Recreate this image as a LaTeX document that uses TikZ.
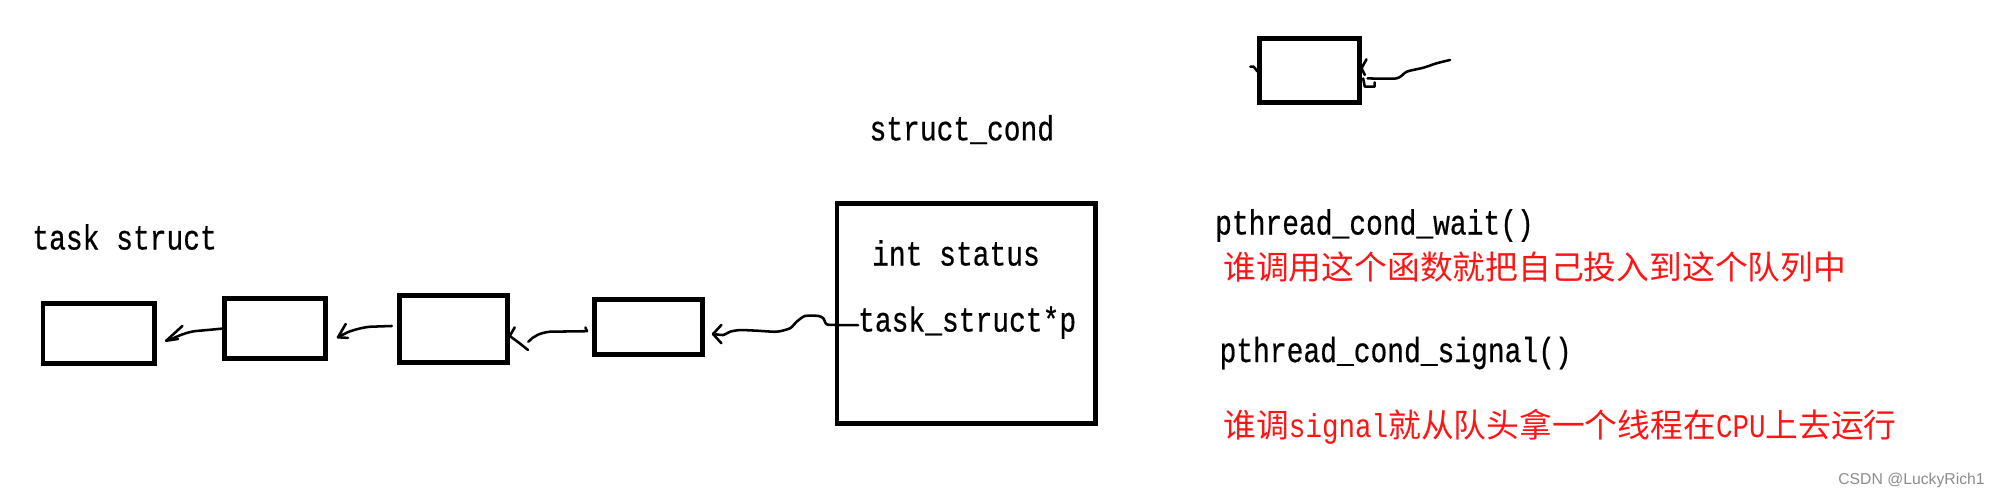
\documentclass[tikz,border=0pt]{standalone}
\usepackage{fontspec}
\usepackage{graphicx}
\newfontfamily\monofnt[FakeBold=0.6]{Liberation Mono}
\newfontfamily\monothin{Liberation Mono}
\newfontfamily\cjk{Noto Sans CJK SC}
\newfontfamily\wmfont{Liberation Sans}
\usetikzlibrary{calc}
\newcommand{\code}[1]{\scalebox{1}[1.25]{\monofnt\fontsize{22}{26}\selectfont #1}}
\newcommand{\rcode}[1]{\scalebox{1}[1.2]{\monothin\fontsize{21.7}{26}\selectfont #1}}
\definecolor{redtxt}{RGB}{255,20,20}
\definecolor{wmgray}{RGB}{140,140,140}
\begin{document}
\begin{tikzpicture}[x=1pt,y=-1pt,
  box/.style={draw,line width=3.8pt,inner sep=0pt,outer sep=0pt},
  hand/.style={line width=2pt,line cap=round,line join=round},
  lbl/.style={anchor=base west,inner sep=0pt,outer sep=0pt}]
\useasboundingbox (0,0) rectangle (1568,390);
\fill[white] (0,0) rectangle (1568,390);

% boxes
\node[box,minimum width=87.9pt,minimum height=47.3pt] (b1) at (77.8,262.5) {};
\node[box,minimum width=79.4pt,minimum height=47.2pt] (b2) at (216.6,258.5) {};
\node[box,minimum width=85.2pt,minimum height=52.2pt] (b3) at (357,259) {};
\node[box,minimum width=85.2pt,minimum height=43.2pt] (b4) at (510.5,257.5) {};
\node[box,minimum width=203.2pt,minimum height=173.2pt] (cond) at (760.5,246.5) {};
\node[box,minimum width=78.4pt,minimum height=50.7pt] (top) at (1030.8,55.35) {};

% texts
\node[lbl] (tslbl) at (25.5,196.4) {\code{task struct}};
\node[lbl] (condlbl) at (684.5,110.5) {\code{struct\_cond}};
\node[lbl] (st) at (686.5,209) {\code{int status}};
\node[lbl] (tp) at (675.5,261) {\code{task\_struct*p}};
\node[lbl] (wait) at (956.5,184.6) {\code{pthread\_cond\_wait()}};
\node[lbl,text=redtxt] (r1) at (963,220) {\cjk\fontsize{25.8}{30}\selectfont 谁调用这个函数就把自己投入到这个队列中};
\node[lbl] (sig) at (960,285) {\code{pthread\_cond\_signal()}};
\node[lbl,text=redtxt] (r2) at (963,344) {\cjk\fontsize{25.8}{30}\selectfont 谁调\rcode{signal}就从队头拿一个线程在\rcode{CPU}上去运行};
\node[lbl,text=wmgray] (wm) at (1447,381.5) {\wmfont\fontsize{12.4}{14}\selectfont CSDN @LuckyRich1};

% connector b2 -> b1
\coordinate (t1) at ($(b1.east)+(9.1,5.7)$);
\draw[hand] (b2.west) -- (157.4,260.3) .. controls (150,260.5) and (142,263.5) .. (136.4,266.3) -- (t1);
\draw[hand] ($(t1)+(12.7,-11.6)$) -- (t1) -- ($(t1)+(9.3,-1.4)$);

% connector b3 -> b2
\coordinate (s2) at ($(b3.west)+(-6,-2.4)$);
\coordinate (t2) at ($(b2.east)+(9.75,7)$);
\draw[hand] (s2) -- (291.2,257.2) .. controls (285,257.8) and (277,260) .. (272.9,261.9) -- (t2);
\draw[hand] ($(t2)+(6.1,-10.5)$) -- (t2) -- ($(t2)+(7.9,0.5)$);

% connector b4 -> b3
\coordinate (s3) at ($(b4.west)+(-7.1,0.3)$);
\coordinate (t3) at ($(b3.east)+(1.65,5.5)$);
\draw[hand] (s3) -- ($(b4.west)+(-5.8,3.2)$) -- (432.9,261.1) .. controls (425,262) and (420,264.5) .. (415.9,269);
\draw[hand] ($(t3)+(3.9,-6.8)$) -- (t3) -- ($(t3)+(7.8,5.7)$) -- ($(t3)+(14.4,11)$);

% connector cond (task_struct*p) -> b4
\coordinate (s4) at ($(tp.base west)+(0,-5)$);
\coordinate (t4) at ($(b4.east)+(8.15,5.4)$);
\draw[hand] plot[smooth,tension=0.4] coordinates {(s4) (658.6,255.8) (650.7,255.3) (648.1,250.6) (644.2,248.7) (633.7,248.7) (627.1,253.2) (621.9,258.4) (611.4,261.1) (595.6,260.3) (582.5,259.8) (574.6,261.1) (569.4,263.7) (t4)};
\draw[hand] ($(t4)+(6.6,-7.1)$) -- (t4) -- ($(t4)+(6.6,7.3)$);

% connector to top box
\coordinate (f5) at (1141.4,47.2);
\coordinate (t5) at ($(top.east)+(1.7,-1.55)$);
\draw[hand] plot[smooth,tension=0.4] coordinates {(f5) (1130.9,49.8) (1120.4,53.3) (1107.3,56.4) (1099.4,61.7) (1076.5,61.7)};
\draw[hand] ($(t5)+(3.9,-7.1)$) -- (t5) -- ($(t5)+(2.6,5.2)$);
\draw[hand] ($(t5)+(1.3,7.9)$) -- ($(t5)+(2.6,14.4)$) -- ($(t5)+(10.4,14.4)$) -- ($(t5)+(10.4,11)$);
\draw[hand] ($(top.west)+(-7.4,-2.85)$) -- ($(top.west)+(-4.8,-2.85)$) -- ($(top.west)+(-1.7,1.05)$);
\end{tikzpicture}
\end{document}
